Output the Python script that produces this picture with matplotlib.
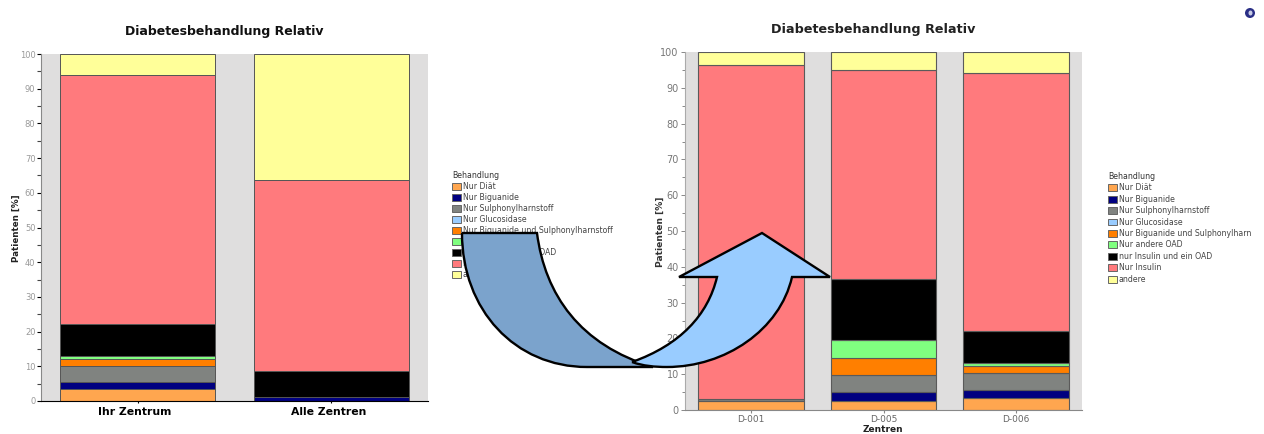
import matplotlib
matplotlib.use("Agg")
import matplotlib.pyplot as plt
from matplotlib.patches import Circle, Ellipse, PathPatch, Patch
from matplotlib.path import Path
from matplotlib.transforms import ScaledTranslation

FIG_W, FIG_H = 1264, 434

left_centres = ["Ihr Zentrum", "Alle Zentren"]
right_centres = ["D-001", "D-005", "D-006"]
y_ticks = [0, 10, 20, 30, 40, 50, 60, 70, 80, 90, 100]
y_minor = [5, 15, 25, 35, 45, 55, 65, 75, 85, 95]

left_labels = ["Nur Diät", "Nur Biguanide", "Nur Sulphonylharnstoff", "Nur Glucosidase",
               "Nur Biguanide und Sulphonylharnstoff", "Nur andere OAD",
               "nur Insulin und ein OAD", "Nur Insulin", "andere"]
right_labels = ["Nur Diät", "Nur Biguanide", "Nur Sulphonylharnstoff", "Nur Glucosidase",
                "Nur Biguanide und Sulphonylharn", "Nur andere OAD",
                "nur Insulin und ein OAD", "Nur Insulin", "andere"]
colors = ["#FFA64F", "#000080", "#808380", "#99CCFF", "#FF7F00",
          "#80FF80", "#000000", "#FF7A7D", "#FFFF99"]

# one row per treatment, one column per centre
left_values = [
    [3.5, 0.0],
    [2.1, 1.1],
    [4.6, 0.0],
    [0.0, 0.0],
    [2.0, 0.0],
    [0.8, 0.0],
    [9.2, 7.5],
    [71.8, 55.1],
    [6.0, 36.3],
]
right_values = [
    [2.5, 2.4, 3.4],
    [0.0, 2.5, 2.1],
    [0.6, 4.9, 4.8],
    [0.0, 0.0, 0.0],
    [0.0, 4.7, 2.0],
    [0.0, 5.0, 0.7],
    [0.1, 17.2, 9.1],
    [93.2, 58.3, 71.9],
    [3.6, 5.0, 6.0],
]


def px_axes(fig, x0, y0, x1, y1):
    """Axes from a pixel box, y counted from the top of the figure."""
    return fig.add_axes([x0 / FIG_W, 1 - y1 / FIG_H, (x1 - x0) / FIG_W, (y1 - y0) / FIG_H])


def stacked(ax, centres, values, edge, edge_width):
    bottoms = [0.0] * len(centres)
    for row, color in zip(values, colors):
        for i, h in enumerate(row):
            if h > 0:
                ax.bar(i, h, 0.8, bottom=bottoms[i], color=color,
                       edgecolor=edge, linewidth=edge_width)
                bottoms[i] += h
    ax.set_facecolor("#DFDEDE")
    ax.set_xlim(-0.5, len(centres) - 0.5)
    ax.set_ylim(0, 100)
    ax.set_xticks(range(len(centres)))
    ax.set_xticklabels(centres)
    ax.set_yticks(y_ticks)
    ax.set_yticks(y_minor, minor=True)
    ax.spines["top"].set_visible(False)
    ax.spines["right"].set_visible(False)


def legend(fig, labels, x, y, spacing, size):
    handles = [Patch(facecolor=c, edgecolor="#666666", linewidth=0.7) for c in colors]
    leg = fig.legend(handles, labels, title="Behandlung", loc="upper left",
                     bbox_to_anchor=(x / FIG_W, 1 - y / FIG_H), frameon=False,
                     fontsize=size, title_fontsize=size, alignment="left",
                     handlelength=1.15, handleheight=1.0, handletextpad=0.25,
                     labelspacing=spacing, borderpad=0, borderaxespad=0)
    for t in leg.get_texts():
        t.set_color("#444444")
    leg.get_title().set_color("#333333")


fig = plt.figure(figsize=(FIG_W / 100, FIG_H / 100), dpi=100)

# left chart
ax1 = px_axes(fig, 41, 54, 428, 401)
stacked(ax1, left_centres, left_values, "#555555", 0.7)
ax1.spines["bottom"].set_color("black")
ax1.spines["left"].set_color("#888888")
ax1.tick_params(axis="y", which="major", labelsize=6, labelcolor="#999999", length=3, width=0.8, pad=1)
ax1.tick_params(axis="y", which="minor", length=3, width=0.8, color="#444444")
ax1.tick_params(axis="x", labelsize=7.8, length=1.5, pad=3)
shift = ScaledTranslation(-3 / 100, 0, fig.dpi_scale_trans)
for t in ax1.get_xticklabels():
    t.set_fontweight("bold")
    t.set_transform(t.get_transform() + shift)
fig.text(224 / FIG_W, 1 - 32 / FIG_H, "Diabetesbehandlung Relativ", ha="center", va="center",
         fontsize=9, fontweight="bold", color="#111111")
fig.text(16 / FIG_W, 1 - 228 / FIG_H, "Patienten [%]", rotation=90, ha="center", va="center",
         fontsize=6.3, fontweight="bold", color="#222222")
legend(fig, left_labels, 452, 171, 0.26, 5.6)

# right chart
ax2 = px_axes(fig, 685, 52, 1082, 410)
stacked(ax2, right_centres, right_values, "#5A5A5A", 0.8)
ax2.spines["bottom"].set_color("#888888")
ax2.spines["left"].set_color("#AAAAAA")
ax2.tick_params(axis="y", which="major", labelsize=7, labelcolor="#777777", color="#888888",
                length=3, width=0.7, pad=1.5)
ax2.tick_params(axis="y", which="minor", length=2, width=0.7, color="#888888")
ax2.tick_params(axis="x", labelsize=6.5, labelcolor="#666666", color="#888888", length=2, pad=1.5)
fig.text(873 / FIG_W, 1 - 29 / FIG_H, "Diabetesbehandlung Relativ", ha="center", va="center",
         fontsize=9.2, fontweight="bold", color="#222222")
fig.text(883 / FIG_W, 1 - 429 / FIG_H, "Zentren", ha="center", va="center",
         fontsize=6.5, fontweight="bold", color="#222222")
fig.text(660 / FIG_W, 1 - 232 / FIG_H, "Patienten [%]", rotation=90, ha="center", va="center",
         fontsize=6.6, fontweight="bold", color="#333333")
legend(fig, right_labels, 1108, 172, 0.31, 5.6)

# curved arrow and logo sit on top of everything, in pixel coordinates
over = fig.add_axes([0, 0, 1, 1], zorder=10)
over.set_xlim(0, FIG_W)
over.set_ylim(FIG_H, 0)
over.axis("off")

band = Path(
    [(462, 233), (537, 233), (545, 295), (580, 345), (653, 367), (587, 367),
     (515, 367), (462, 310), (462, 233)],
    [Path.MOVETO, Path.LINETO, Path.CURVE4, Path.CURVE4, Path.CURVE4, Path.LINETO,
     Path.CURVE4, Path.CURVE4, Path.CURVE4],
)
over.add_patch(PathPatch(band, facecolor="#7BA3CC", edgecolor="black", linewidth=1.7))

head = Path(
    [(632, 362), (680, 345), (708, 315), (717, 277), (679, 277), (762, 233), (830, 277),
     (792, 277), (780, 330), (725, 367), (667, 367), (655, 367), (643, 366), (632, 362)],
    [Path.MOVETO, Path.CURVE4, Path.CURVE4, Path.CURVE4, Path.LINETO, Path.LINETO, Path.LINETO,
     Path.LINETO, Path.CURVE4, Path.CURVE4, Path.CURVE4, Path.CURVE4, Path.CURVE4, Path.CURVE4],
)
over.add_patch(PathPatch(head, facecolor="#99CCFF", edgecolor="black", linewidth=1.7,
                         joinstyle="miter"))

over.add_patch(Circle((1250, 13), 5, facecolor="#2A2F86", edgecolor="none"))
over.add_patch(Ellipse((1250.5, 13), 4, 5, facecolor="#C8CCE6", edgecolor="none"))

fig.savefig("out.png", dpi=100)
